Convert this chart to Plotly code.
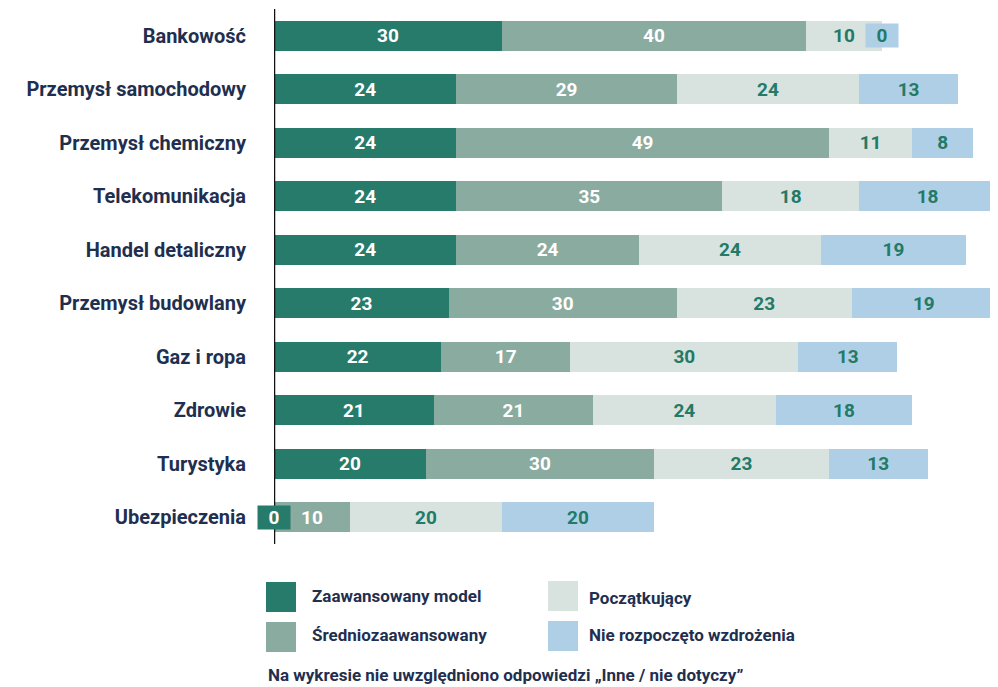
import plotly.graph_objects as go

categories = ["Bankowość", "Przemysł samochodowy", "Przemysł chemiczny", "Telekomunikacja",
              "Handel detaliczny", "Przemysł budowlany", "Gaz i ropa", "Zdrowie",
              "Turystyka", "Ubezpieczenia"]
series_names = ["Zaawansowany model", "Średniozaawansowany", "Początkujący", "Nie rozpoczęto wzdrożenia"]
zaawansowany = [30, 24, 24, 24, 24, 23, 22, 21, 20, 0]
sredniozaaw = [40, 29, 49, 35, 24, 30, 17, 21, 30, 10]
poczatkujacy = [10, 24, 11, 18, 24, 23, 30, 24, 23, 20]
nie_rozpoczeto = [0, 13, 8, 18, 19, 19, 13, 18, 13, 20]
footnote = "Na wykresie nie uwzględniono odpowiedzi „Inne / nie dotyczy”"

series = [zaawansowany, sredniozaaw, poczatkujacy, nie_rozpoczeto]
colors = ["#267b6a", "#8aab9f", "#d8e2df", "#afcfe6"]
text_colors = ["#ffffff", "#ffffff", "#237a66", "#237a66"]
navy = "#1f2f4f"
FONT = "Roboto"

OFF = 8  # page body margin
W, H = 990, 679
L, R, T, B = 266, 0, 1, 143
PX_PER_UNIT = 7.6
xmax = (W - L - R) / PX_PER_UNIT

fig = go.Figure()
for name, vals, c, tc in zip(series_names, series, colors, text_colors):
    fig.add_trace(go.Bar(
        y=categories, x=vals, name=name, orientation="h",
        marker=dict(color=c, line=dict(width=0)),
        text=[str(v) if v > 0 else "" for v in vals],
        textposition="inside", insidetextanchor="middle",
        textfont=dict(family=FONT, size=19, color=tc, weight="bold"),
        width=0.56, showlegend=False,
    ))

annotations = []
# zero-value boxes
for si, vals in enumerate(series):
    for ci, v in enumerate(vals):
        if v == 0:
            base = sum(series[k][ci] for k in range(si))
            annotations.append(dict(
                x=base, y=categories[ci], xref="x", yref="y", text="<b>0</b>",
                showarrow=False, bgcolor=colors[si], width=32, height=23,
                font=dict(family=FONT, size=19, color=text_colors[si]),
                xanchor="center", yanchor="middle", borderpad=0,
            ))

def px_x(px):
    return (px - OFF - L) / (W - L - R)

def px_y(py):
    return (H - B - (py - OFF)) / (H - T - B)

shapes = []
legend_pos = [(266, 582, 310, 596), (266, 622, 310, 635), (548, 581, 587, 598), (548, 621, 587, 635)]
for name, c, (sx, sy, tx, ty) in zip(series_names, colors, legend_pos):
    shapes.append(dict(type="rect", xref="paper", yref="paper",
                       x0=px_x(sx), x1=px_x(sx + 30), y0=px_y(sy + 30), y1=px_y(sy),
                       fillcolor=c, line=dict(width=0)))
    annotations.append(dict(x=px_x(tx), y=px_y(ty), xref="paper", yref="paper",
                            text=f"<b>{name}</b>", showarrow=False, xanchor="left", yanchor="middle",
                            font=dict(family=FONT, size=17, color=navy)))
annotations.append(dict(x=px_x(266), y=px_y(675), xref="paper", yref="paper",
                        text=f"<b>{footnote}</b>", showarrow=False, xanchor="left", yanchor="middle",
                        font=dict(family=FONT, size=17, color=navy)))

# axis line
shapes.append(dict(type="line", xref="x", yref="paper", x0=0, x1=0, y0=0, y1=1,
                   line=dict(color="#111111", width=2.5)))

fig.update_layout(
    width=W, height=H, barmode="stack",
    margin=dict(l=L, r=R, t=T, b=B, autoexpand=False),
    paper_bgcolor="white", plot_bgcolor="white",
    xaxis=dict(range=[0, xmax], visible=False, fixedrange=True),
    yaxis=dict(autorange=False, range=[len(categories) - 0.495, -0.505], type="category",
               showgrid=False, zeroline=False, showline=False, ticks="outside",
               ticklen=23, tickcolor="rgba(0,0,0,0)",
               tickfont=dict(family=FONT, size=20, color=navy, weight="bold")),
    shapes=shapes, annotations=annotations,
    uniformtext=dict(mode="show", minsize=10),
)

fig.write_html("out.html")
